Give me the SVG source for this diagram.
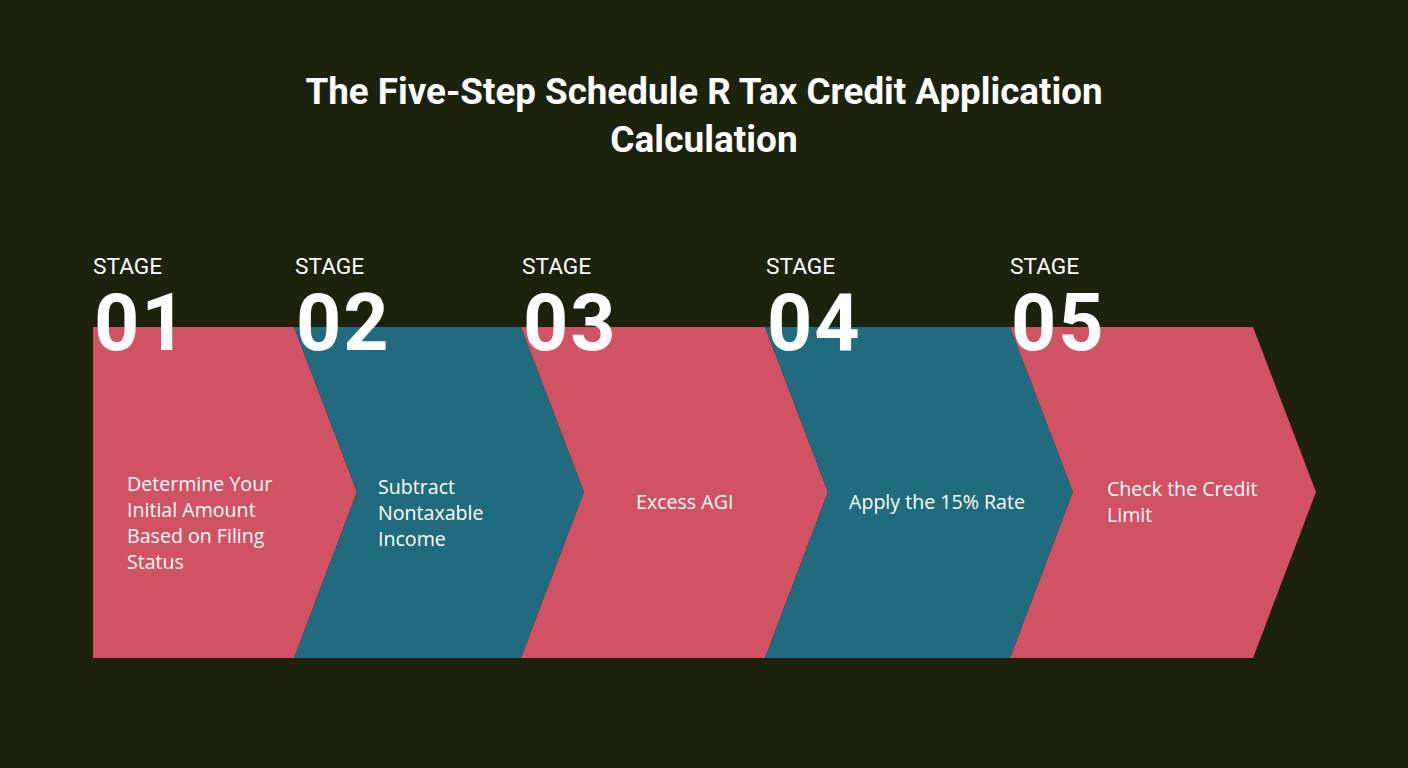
<svg xmlns="http://www.w3.org/2000/svg" width="1408" height="768" viewBox="0 0 1408 768">
<style>
.pink{fill:#D05263}
.teal{fill:#206B7E}
.title{font-family:Roboto,"Liberation Sans",sans-serif;font-weight:700;font-size:37px;fill:#FFFFFF;text-anchor:middle}
.stage{font-family:Roboto,"Liberation Sans",sans-serif;font-size:22.7px;fill:#FFFFFF}
.num{font-family:Roboto,"Liberation Sans",sans-serif;font-weight:700;font-size:79px;letter-spacing:2px;fill:#FFFFFF}
.body{font-family:"Open Sans","Liberation Sans",sans-serif;font-size:19.6px;fill:#FFFFFF}
</style>
<rect width="1408" height="768" fill="#1D220C"/>
<g id="title">
<text class="title" x="704" y="104" textLength="797" lengthAdjust="spacingAndGlyphs">The Five-Step Schedule R Tax Credit Application</text>
<text class="title" x="704" y="152">Calculation</text>
</g>
<g id="stage1">
<path class="pink" d="M93,327 L294,327 L357,492 L294,658 L93,658 Z"/>
<text class="stage" x="93" y="274">STAGE</text>
<text class="num" x="94" y="350">01</text>
<text class="body" x="127" y="491">Determine Your</text>
<text class="body" x="127" y="517">Initial Amount</text>
<text class="body" x="127" y="543">Based on Filing</text>
<text class="body" x="127" y="569">Status</text>
</g>
<g id="stage2">
<path class="teal" d="M294,327 L521,327 L584,492 L521,658 L294,658 L357,492 Z"/>
<text class="stage" x="295" y="274">STAGE</text>
<text class="num" x="296" y="350">02</text>
<text class="body" x="378" y="494">Subtract</text>
<text class="body" x="378" y="520">Nontaxable</text>
<text class="body" x="378" y="546">Income</text>
</g>
<g id="stage3">
<path class="pink" d="M521,327 L765,327 L828,492 L765,658 L521,658 L584,492 Z"/>
<text class="stage" x="522" y="274">STAGE</text>
<text class="num" x="523" y="350">03</text>
<text class="body" x="636" y="509">Excess AGI</text>
</g>
<g id="stage4">
<path class="teal" d="M765,327 L1010,327 L1073,492 L1010,658 L765,658 L828,492 Z"/>
<text class="stage" x="766" y="274">STAGE</text>
<text class="num" x="767" y="350">04</text>
<text class="body" x="849" y="509">Apply the 15% Rate</text>
</g>
<g id="stage5">
<path class="pink" d="M1010,327 L1253,327 L1316,492 L1253,658 L1010,658 L1073,492 Z"/>
<text class="stage" x="1010" y="274">STAGE</text>
<text class="num" x="1011" y="350">05</text>
<text class="body" x="1107" y="496">Check the Credit</text>
<text class="body" x="1107" y="522">Limit</text>
</g>
<g id="connectors"/>
</svg>
